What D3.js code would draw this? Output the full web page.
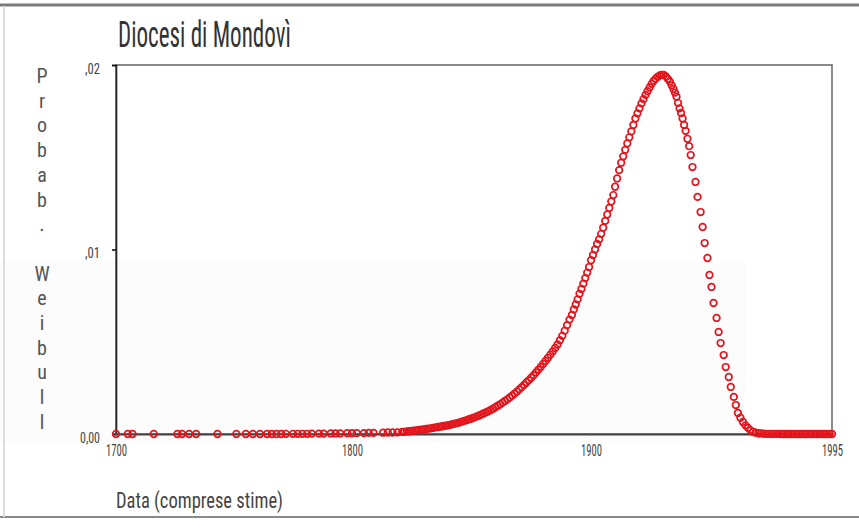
<!DOCTYPE html>
<html><head><meta charset="utf-8">
<script src="https://cdn.jsdelivr.net/npm/d3@7"></script>
<style>body{margin:0;background:#fff}svg{display:block}</style>
</head><body><svg id="c" width="859" height="520"></svg>
<script>
const title = "Diocesi di Mondovì";
const xTitle = "Data (comprese stime)";
const yTitle = "Probab. Weibull";
const xTicks = [1700, 1800, 1900, 1995];
const xTickLabels = ["1700", "1800", "1900", "1995"];
const yTicks = [0, 0.01, 0.02];
const yTickLabels = ["0,00", ",01", ",02"];

// sparse early dates
const yearsEarly = [1700,1705,1707,1716,1726,1728,1731,1734,1743,1751,1755,1758,1761,1764,1766,1768,1770,1772,1775,1777,1779,1781,1783,1786,1788,1791,1793,1795,1798,1800,1802,1805,1807,1809,1813,1815,1817,1819];
const probEarly  = [0,0,0,0,0,0,0,0,0,0,0,0,0,0,0,0,0,0.00001,0.00001,0.00001,0.00001,0.00001,0.00002,0.00002,0.00002,0.00003,0.00003,0.00003,0.00004,0.00004,0.00005,0.00005,0.00006,0.00006,0.00007,0.00008,0.00008,0.00009];

// rising side
const yearsRise = [1821,1822,1823,1824,1825,1826,1827,1828,1829,1830,1831,1832,1833,1834,1835,1836,1837,1838,1839,1840,1841,1842,1843,1844,1845,1846,1847,1848,1849,1850,1851,1852,1853,1854,1855,1856,1857,1858,1859,1860,1861,1862,1863,1864,1865,1866,1867,1868,1869,1870,1871,1872,1873,1874,1875,1876,1877,1878,1879,1880,1881,1882,1883,1884,1885,1886,1887,1888,1889,1890,1891,1892,1892.8,1893.6,1894.4,1895.2,1896,1896.8,1897.6,1898.4,1899.2,1900,1900.8,1901.6,1902.4,1903.2,1904,1904.8,1905.6,1906.4,1907.2,1908,1908.8,1909.5,1910.3,1911.1,1911.9,1912.7,1913.5,1914.3,1915.1,1915.9,1916.7,1917.5,1918.3,1919.1,1919.9,1920.7,1921.5,1922.3,1923.1,1923.9,1924.7,1925.5,1926.3,1927.1,1927.9];
const probRise  = [0.00011,0.00012,0.00014,0.00015,0.00017,0.00018,0.00020,0.00022,0.00024,0.00025,0.00027,0.00029,0.00031,0.00033,0.00036,0.00038,0.00040,0.00042,0.00045,0.00047,0.00050,0.00053,0.00056,0.00059,0.00063,0.00067,0.00071,0.00075,0.00080,0.00084,0.00089,0.00094,0.00099,0.00105,0.00111,0.00117,0.00123,0.00130,0.00137,0.00145,0.00153,0.00161,0.00170,0.00179,0.00188,0.00198,0.00208,0.00219,0.00230,0.00242,0.00254,0.00266,0.00279,0.00292,0.00305,0.00319,0.00334,0.00349,0.00364,0.00380,0.00396,0.00413,0.00430,0.00448,0.00466,0.00485,0.00508,0.00532,0.00560,0.00590,0.00620,0.00645,0.00675,0.00702,0.00730,0.00760,0.00786,0.00815,0.00845,0.00875,0.00905,0.00942,0.00970,0.01000,0.01030,0.01055,0.01085,0.01118,0.01155,0.01190,0.01225,0.01260,0.01295,0.01340,0.01385,0.01430,0.01470,0.01505,0.01540,0.01575,0.01608,0.01640,0.01675,0.01710,0.01738,0.01765,0.01792,0.01815,0.01838,0.01858,0.01878,0.01898,0.01914,0.01926,0.01936,0.01944,0.01947];

// falling side and tail
const yearsFall = [1928.7,1929.5,1930.3,1931.1,1931.8,1932.5,1933.1,1933.7,1934.3,1934.9,1935.5,1936.1,1936.7,1937.3,1938.0,1938.7,1939.3,1940.0,1941.2,1942.0,1943.2,1944.0,1944.8,1945.9,1946.7,1947.5,1948.3,1949.5,1950.3,1951.1,1952.3,1953.1,1954.3,1955.1,1956.3,1957.1,1957.9,1958.9,1959.9,1960.9,1961.9,1962.9,1963.9,1964.9,1966,1967,1968,1969,1970,1971,1972,1973,1974,1975,1976,1977,1978,1979,1980,1981,1982,1983,1984,1985,1986,1987,1988,1989,1990,1991,1992,1993,1994,1995];
const probFall  = [0.01946,0.01938,0.01925,0.01910,0.01890,0.01870,0.01850,0.01828,0.01795,0.01765,0.01740,0.01710,0.01675,0.01643,0.01600,0.01560,0.01512,0.01447,0.01366,0.01285,0.01203,0.01122,0.01035,0.00954,0.00862,0.00797,0.00710,0.00629,0.00553,0.00493,0.00428,0.00363,0.00309,0.00255,0.00201,0.00157,0.00114,0.00088,0.00065,0.00047,0.00033,0.00020,0.00012,0.00007,0.00004,0.00003,0.00002,0.00001,0.00001,0.00001,0.00001,0.00001,0.00001,0,0,0,0,0,0,0,0,0,0,0,0,0,0,0,0,0,0,0,0,0];

const years = yearsEarly.concat(yearsRise, yearsFall);
const probs = probEarly.concat(probRise, probFall);

const svg = d3.select("#c");
const x = d3.scaleLinear().domain([1700, 1800, 1900, 1995]).range([116, 352, 591, 832]);
const y = d3.scaleLinear().domain([0, 0.02]).range([434, 65]);
const fontC = "'Liberation Sans Narrow','Roboto Condensed','Liberation Sans',Arial,sans-serif";

// scan borders
svg.append("rect").attr("x", 0).attr("y", 262).attr("width", 745).attr("height", 180).attr("fill", "#fcfcfc");
svg.append("line").attr("x1", 0).attr("x2", 859).attr("y1", 5).attr("y2", 5).attr("stroke", "#7a7a7a").attr("stroke-width", 3);
svg.append("line").attr("x1", 0).attr("x2", 859).attr("y1", 517).attr("y2", 517).attr("stroke", "#8a8a8a").attr("stroke-width", 2);
svg.append("line").attr("x1", 4).attr("x2", 4).attr("y1", 6).attr("y2", 517).attr("stroke", "#dddddd").attr("stroke-width", 2);

// frame
svg.append("rect").attr("x", x(1700)).attr("y", y(0.02)).attr("width", x(1995) - x(1700)).attr("height", y(0) - y(0.02))
  .attr("fill", "none").attr("stroke", "#6e6e6e").attr("stroke-width", 1.6);

// axes
const yAxis = svg.append("g").attr("transform", `translate(${x(1700)},0)`)
  .call(d3.axisLeft(y).tickValues(yTicks).tickSize(4).tickFormat((d, i) => yTickLabels[i]));
yAxis.select(".domain").attr("stroke", "#222").attr("stroke-width", 1.6);
yAxis.selectAll(".tick line").attr("stroke", "#111").attr("stroke-width", 1.6);
yAxis.selectAll(".tick text").attr("x", -16).attr("dy", "0.55em").attr("font-family", fontC).attr("font-size", 15).attr("fill", "#444")
  .attr("textLength", (d, i) => yTickLabels[i].length * 5).attr("lengthAdjust", "spacingAndGlyphs");

const xAxis = svg.append("g").attr("transform", `translate(0,${y(0)})`)
  .call(d3.axisBottom(x).tickValues(xTicks).tickSize(2).tickFormat((d, i) => xTickLabels[i]));
xAxis.select(".domain").attr("stroke", "#444").attr("stroke-width", 1.8);
xAxis.selectAll(".tick line").attr("stroke", "#777");
xAxis.selectAll(".tick text").attr("y", 11).attr("font-family", fontC).attr("font-size", 16).attr("fill", "#444")
  .attr("textLength", 21).attr("lengthAdjust", "spacingAndGlyphs");

// points
svg.append("g").selectAll("circle").data(years).join("circle")
  .attr("cx", (d) => x(d)).attr("cy", (d, i) => y(probs[i]))
  .attr("r", 3.3).attr("fill", "none").attr("stroke", "#e3141c").attr("stroke-width", 1.7);

// titles
svg.append("text").attr("x", 118).attr("y", 47).text(title)
  .attr("font-family", fontC).attr("font-size", 36).attr("fill", "#333")
  .attr("textLength", 173).attr("lengthAdjust", "spacingAndGlyphs");
svg.append("text").attr("x", 116).attr("y", 508).text(xTitle)
  .attr("font-family", fontC).attr("font-size", 22).attr("fill", "#444")
  .attr("textLength", 167).attr("lengthAdjust", "spacingAndGlyphs");
svg.append("g").selectAll("text").data(yTitle.split("")).join("text")
  .attr("x", 42).attr("y", (d, i) => 83 + i * 24.7).attr("text-anchor", "middle")
  .attr("font-family", fontC).attr("font-size", 20).attr("fill", "#555").text((d) => d);
</script></body></html>
